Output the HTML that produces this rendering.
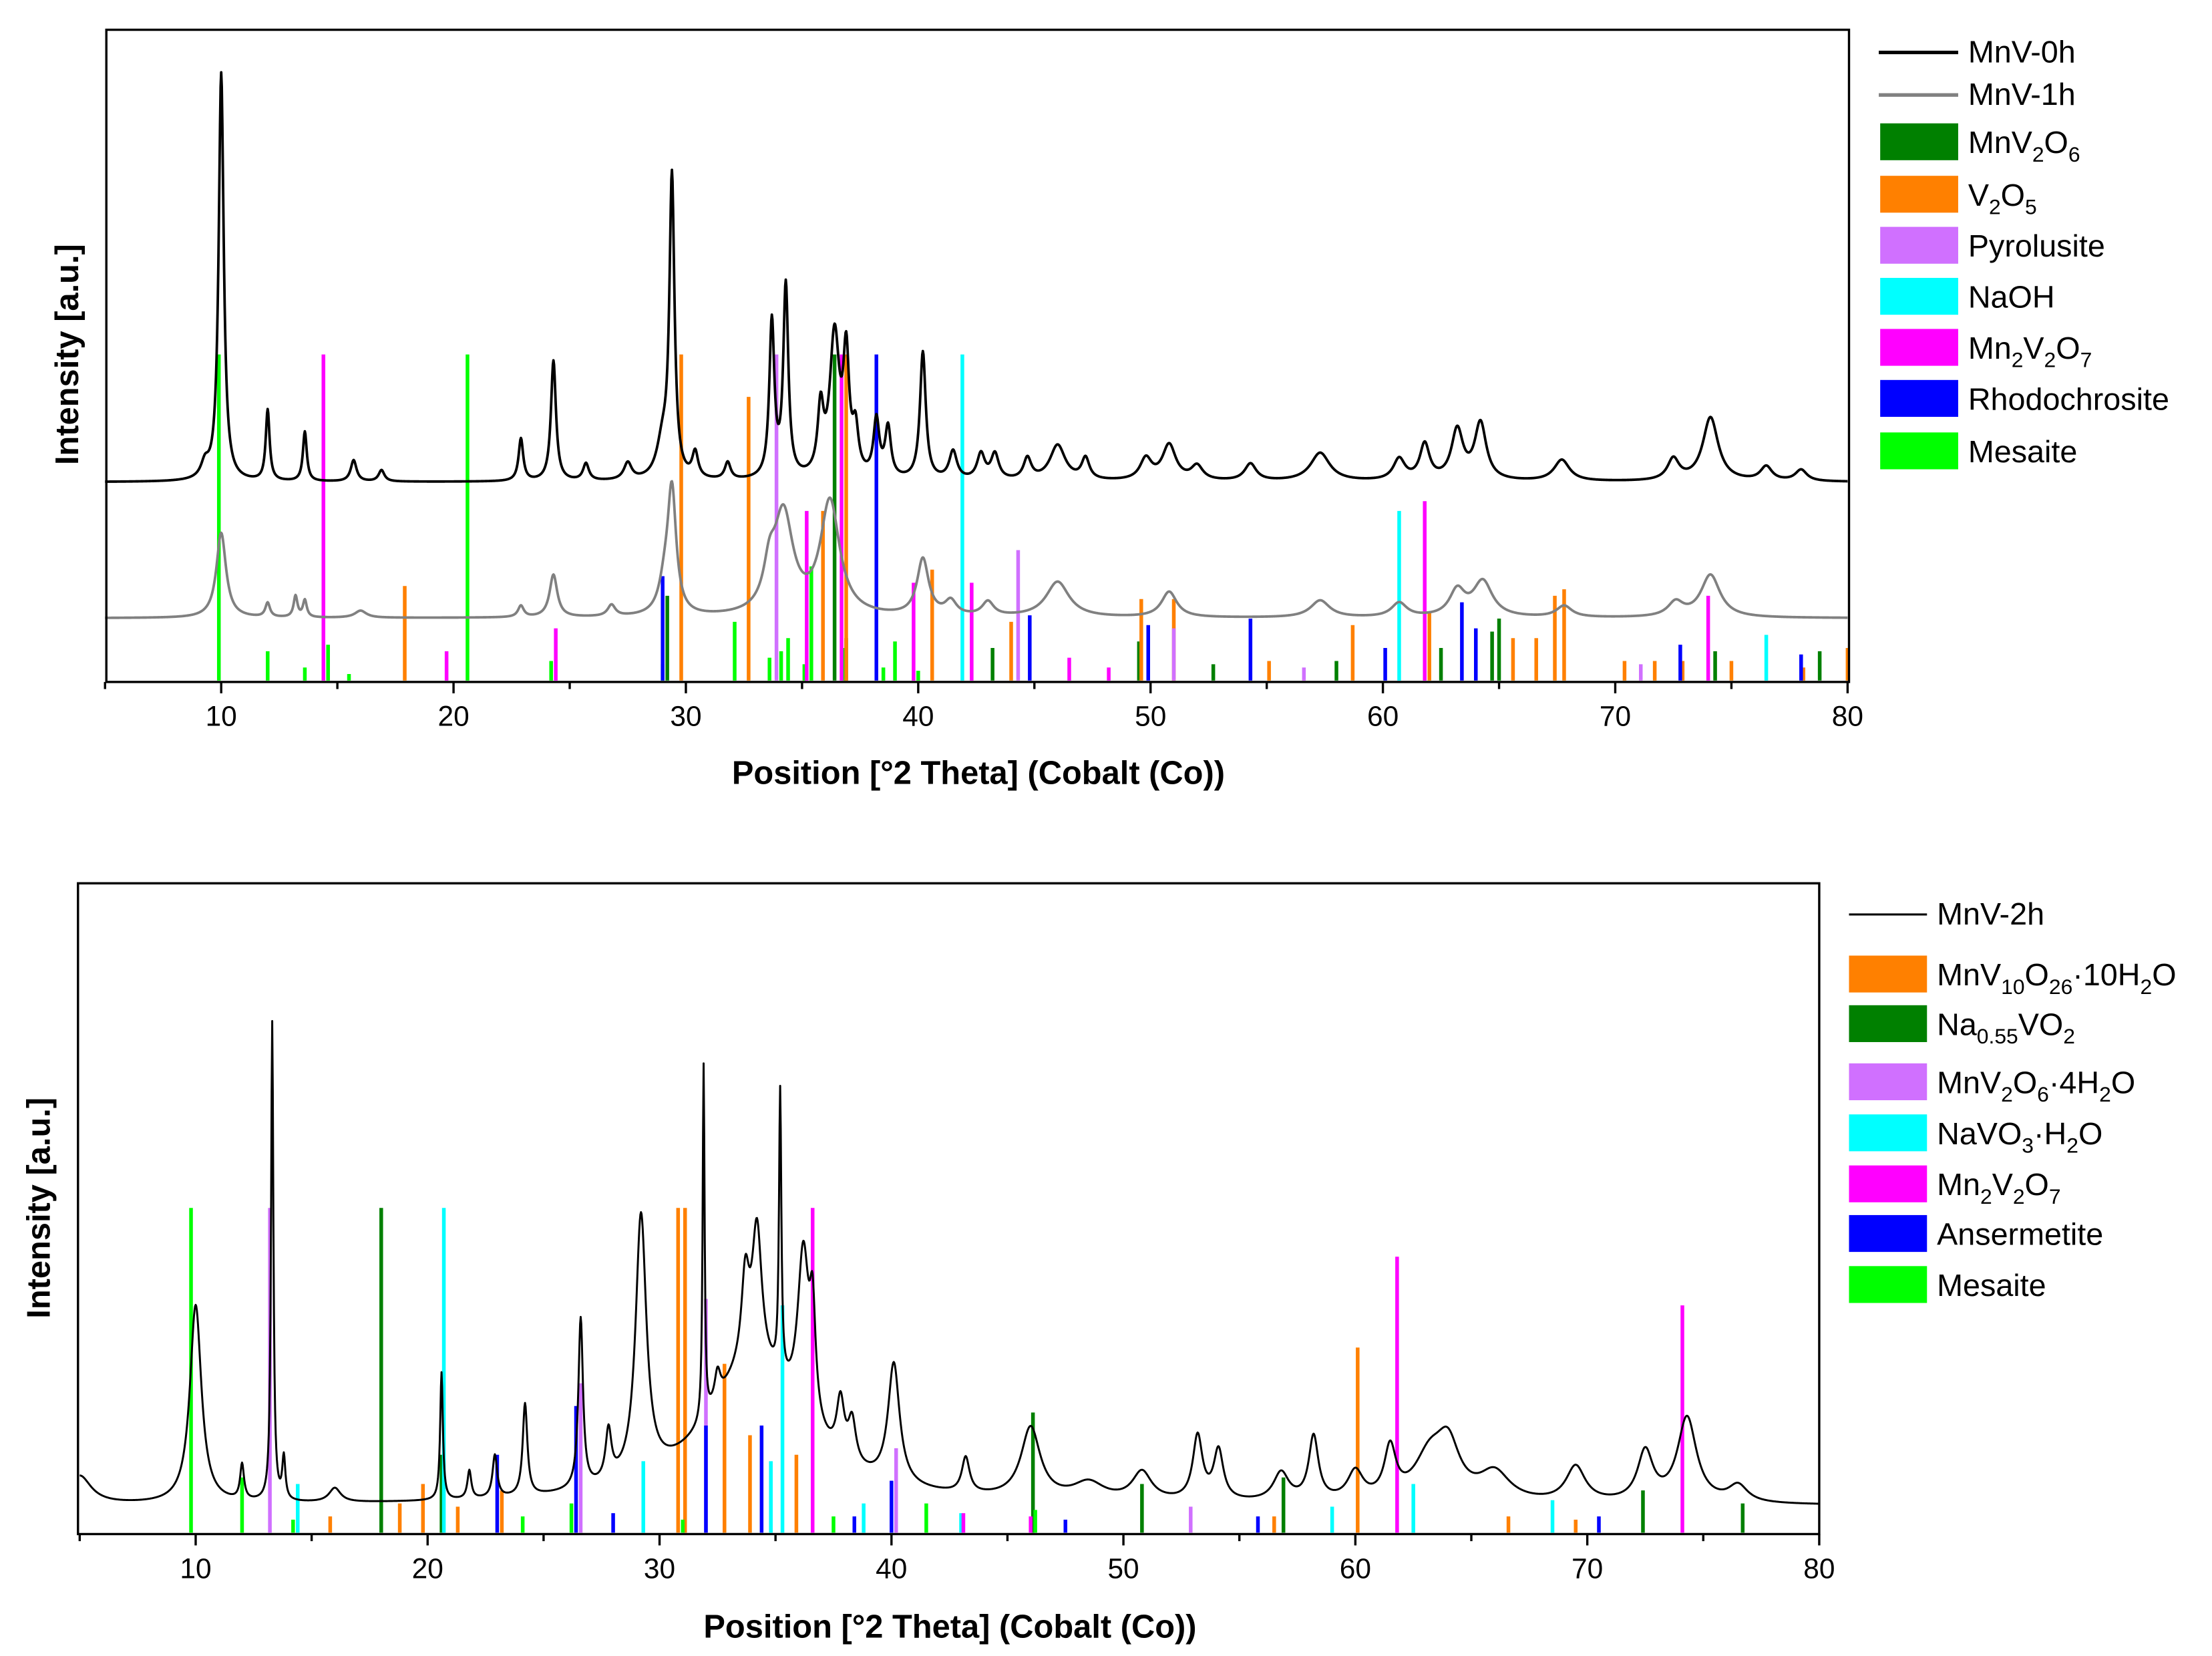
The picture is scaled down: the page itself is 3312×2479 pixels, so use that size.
<!DOCTYPE html>
<html><head><meta charset="utf-8"><style>
html,body{margin:0;padding:0;background:#fff}
svg{display:block}
text{font-family:"Liberation Sans",Arial,sans-serif;fill:#000}
</style></head><body>
<svg id="fig" width="3312" height="2479" viewBox="0 0 1560 1168" preserveAspectRatio="none" xmlns="http://www.w3.org/2000/svg">
<rect width="1560" height="1168" fill="#fff"/>
<g id="top"></g>
<g id="bot"></g>
<text x="690" y="553" font-size="23" font-weight="bold" text-anchor="middle">Position [°2 Theta] (Cobalt (Co))</text>
<text transform="translate(55,250) rotate(-90)" font-size="23" font-weight="bold" text-anchor="middle">Intensity [a.u.]</text>
<text x="670" y="1155" font-size="23" font-weight="bold" text-anchor="middle">Position [°2 Theta] (Cobalt (Co))</text>
<text transform="translate(35,852) rotate(-90)" font-size="23" font-weight="bold" text-anchor="middle">Intensity [a.u.]</text>

<g font-size="22">
<line x1="1325" y1="37" x2="1381" y2="37" stroke="#000" stroke-width="2.5"/><text x="1388" y="44">MnV-0h</text>
<line x1="1325" y1="67" x2="1381" y2="67" stroke="#808080" stroke-width="2.5"/><text x="1388" y="74">MnV-1h</text>
<rect x="1326" y="87" width="55" height="26" fill="#008000"/><text x="1388" y="108">MnV<tspan font-size="15" dy="6">2</tspan><tspan dy="-6">O</tspan><tspan font-size="15" dy="6">6</tspan></text>
<rect x="1326" y="124" width="55" height="26" fill="#ff8000"/><text x="1388" y="145">V<tspan font-size="15" dy="6">2</tspan><tspan dy="-6">O</tspan><tspan font-size="15" dy="6">5</tspan></text>
<rect x="1326" y="160" width="55" height="26" fill="#d070ff"/><text x="1388" y="181">Pyrolusite</text>
<rect x="1326" y="196" width="55" height="26" fill="#00ffff"/><text x="1388" y="217">NaOH</text>
<rect x="1326" y="232" width="55" height="26" fill="#ff00ff"/><text x="1388" y="253">Mn<tspan font-size="15" dy="6">2</tspan><tspan dy="-6">V</tspan><tspan font-size="15" dy="6">2</tspan><tspan dy="-6">O</tspan><tspan font-size="15" dy="6">7</tspan></text>
<rect x="1326" y="268" width="55" height="26" fill="#0000ff"/><text x="1388" y="289">Rhodochrosite</text>
<rect x="1326" y="305" width="55" height="26" fill="#00ff00"/><text x="1388" y="326">Mesaite</text>
</g>
<g font-size="22">
<line x1="1304" y1="645" x2="1359" y2="645" stroke="#000" stroke-width="1.5"/><text x="1366" y="652">MnV-2h</text>
<rect x="1304" y="674" width="55" height="26" fill="#ff8000"/><text x="1366" y="695">MnV<tspan font-size="15" dy="6">10</tspan><tspan dy="-6">O</tspan><tspan font-size="15" dy="6">26</tspan><tspan dy="-6">·10H</tspan><tspan font-size="15" dy="6">2</tspan><tspan dy="-6">O</tspan></text>
<rect x="1304" y="709" width="55" height="26" fill="#008000"/><text x="1366" y="730">Na<tspan font-size="15" dy="6">0.55</tspan><tspan dy="-6">VO</tspan><tspan font-size="15" dy="6">2</tspan></text>
<rect x="1304" y="750" width="55" height="26" fill="#d070ff"/><text x="1366" y="771">MnV<tspan font-size="15" dy="6">2</tspan><tspan dy="-6">O</tspan><tspan font-size="15" dy="6">6</tspan><tspan dy="-6">·4H</tspan><tspan font-size="15" dy="6">2</tspan><tspan dy="-6">O</tspan></text>
<rect x="1304" y="786" width="55" height="26" fill="#00ffff"/><text x="1366" y="807">NaVO<tspan font-size="15" dy="6">3</tspan><tspan dy="-6">·H</tspan><tspan font-size="15" dy="6">2</tspan><tspan dy="-6">O</tspan></text>
<rect x="1304" y="822" width="55" height="26" fill="#ff00ff"/><text x="1366" y="843">Mn<tspan font-size="15" dy="6">2</tspan><tspan dy="-6">V</tspan><tspan font-size="15" dy="6">2</tspan><tspan dy="-6">O</tspan><tspan font-size="15" dy="6">7</tspan></text>
<rect x="1304" y="857" width="55" height="26" fill="#0000ff"/><text x="1366" y="878">Ansermetite</text>
<rect x="1304" y="893" width="55" height="26" fill="#00ff00"/><text x="1366" y="914">Mesaite</text>
</g>
</svg>
<script>
// ---- data: peaks [position, height, halfwidth] ----
const peaks0h = [[9.3,10,0.2],[10.0,288,0.13],[12.0,50,0.1],[13.6,35,0.1],[15.7,15,0.15],[16.9,8,0.15],[22.9,30,0.12],[24.3,85,0.13],[25.7,12,0.15],[27.5,12,0.2],[29.0,25,0.3],[29.4,210,0.13],[30.4,18,0.15],[31.8,12,0.15],[33.7,110,0.13],[34.3,135,0.13],[35.8,45,0.15],[36.4,100,0.25],[36.9,80,0.15],[37.3,30,0.15],[38.2,40,0.15],[38.7,35,0.15],[40.2,90,0.15],[41.5,20,0.2],[42.7,18,0.2],[43.3,18,0.2],[44.7,15,0.2],[46.0,25,0.4],[47.2,15,0.2],[49.8,15,0.3],[50.8,25,0.35],[52.0,10,0.3],[54.3,12,0.3],[57.3,20,0.5],[60.7,15,0.3],[61.8,25,0.25],[63.2,35,0.3],[64.2,40,0.3],[67.7,15,0.4],[72.5,15,0.3],[74.1,45,0.4],[76.5,10,0.3],[78.0,8,0.3]];
const peaks1h = [[10.0,60,0.25],[12.0,10,0.12],[13.2,15,0.1],[13.6,12,0.1],[16,5,0.3],[22.9,8,0.15],[24.3,30,0.2],[26.8,8,0.2],[29.1,20,0.3],[29.4,85,0.22],[33.6,25,0.3],[34.2,70,0.5],[36.2,80,0.5],[40.2,40,0.3],[41.4,10,0.3],[43.0,10,0.3],[46.0,25,0.6],[50.8,18,0.4],[57.3,12,0.5],[60.7,10,0.4],[63.2,18,0.4],[64.3,25,0.5],[67.8,8,0.4],[72.6,10,0.4],[74.1,30,0.5]];
const peaks2h = [[5.0,20,0.6],[10.0,140,0.3],[12.0,25,0.1],[13.3,338,0.06],[13.8,30,0.08],[16.0,10,0.3],[20.6,90,0.07],[21.8,20,0.1],[22.9,30,0.12],[24.2,65,0.12],[26.6,120,0.12],[27.8,35,0.15],[29.2,185,0.28],[34.0,95,2.5],[31.9,250,0.05],[32.5,20,0.15],[33.7,60,0.2],[34.2,95,0.25],[35.2,200,0.06],[36.2,120,0.3],[36.6,70,0.15],[37.8,40,0.2],[38.3,30,0.2],[40.1,85,0.3],[43.2,25,0.2],[46.0,50,0.5],[48.5,12,0.8],[50.8,20,0.5],[53.2,45,0.25],[54.1,35,0.25],[56.8,20,0.4],[58.2,45,0.25],[60.0,20,0.4],[61.5,35,0.3],[63.2,30,0.8],[64.0,35,0.6],[66.0,20,0.8],[69.5,25,0.5],[72.5,35,0.4],[74.3,60,0.5],[76.5,12,0.5]];
// ---- sticks [position, relative height 0..1] ----
const stTop = {
 "mesaite":[[9.9,1],[12.0,.09],[13.6,.04],[14.6,.11],[15.5,.02],[20.6,1],[24.2,.06],[29.0,.05],[32.1,.18],[33.6,.07],[34.1,.09],[34.4,.13],[35.1,.05],[35.4,.35],[36.8,.1],[38.5,.04],[39.0,.12],[40.0,.03]],
 "mnv2o6":[[29.2,.26],[36.4,1],[36.9,.13],[43.2,.1],[49.5,.12],[52.7,.05],[58.0,.06],[62.5,.1],[64.7,.15],[65.0,.19],[74.3,.09],[78.8,.09]],
 "v2o5":[[17.9,.29],[29.8,1],[32.7,.87],[35.9,.52],[36.9,1],[40.6,.34],[44.0,.18],[49.6,.25],[51.0,.25],[55.1,.06],[58.7,.17],[62.0,.21],[65.6,.13],[66.6,.13],[67.4,.26],[67.8,.28],[70.4,.06],[71.7,.06],[72.9,.06],[75.0,.06],[78.1,.04],[80,.1]],
 "pyrolusite":[[33.9,1],[44.3,.4],[51.0,.16],[56.6,.04],[71.1,.05]],
 "naoh":[[41.9,1],[60.7,.52],[76.5,.14]],
 "mn2v2o7":[[14.4,1],[19.7,.09],[24.4,.16],[35.2,.52],[36.7,1],[39.8,.3],[42.3,.3],[46.5,.07],[48.2,.04],[61.8,.55],[74.0,.26]],
 "rhodochrosite":[[29.0,.32],[38.2,1],[44.8,.2],[49.9,.17],[54.3,.19],[60.1,.1],[63.4,.24],[64.0,.16],[72.8,.11],[78.0,.08]]
};
const stBot = {
 "mnv10o26":[[15.8,.05],[18.8,.09],[19.8,.15],[21.3,.08],[23.2,.13],[30.8,1],[31.1,1],[32.8,.52],[33.9,.3],[35.9,.24],[56.5,.05],[60.1,.57],[66.6,.05],[69.5,.04]],
 "na055vo2":[[18.0,1],[20.6,.24],[46.1,.37],[50.8,.15],[56.9,.17],[72.4,.13],[76.7,.09]],
 "mnv2o6-4h2o":[[13.2,1],[26.6,.46],[32.0,.72],[40.2,.26],[52.9,.08]],
 "navo3-h2o":[[14.4,.15],[20.7,1],[29.3,.22],[34.8,.22],[35.3,.7],[38.8,.09],[43.0,.06],[59.0,.08],[62.5,.15],[68.5,.1]],
 "mn2v2o7":[[36.6,1],[43.1,.06],[46.0,.05],[61.8,.85],[74.1,.7]],
 "ansermetite":[[23.0,.24],[26.4,.39],[28.0,.06],[32.0,.33],[34.4,.33],[38.4,.05],[40.0,.16],[47.5,.04],[55.8,.05],[70.5,.05]],
 "mesaite":[[9.8,1],[12.0,.17],[14.2,.04],[24.1,.05],[26.2,.09],[31.0,.04],[37.5,.05],[41.5,.09],[46.2,.07]]
};
const xTicks = [10,20,30,40,50,60,70,80];
const colors = {"mesaite":"#00ff00","mnv2o6":"#008000","v2o5":"#ff8000","pyrolusite":"#d070ff","naoh":"#00ffff","mn2v2o7":"#ff00ff","rhodochrosite":"#0000ff","mnv10o26":"#ff8000","na055vo2":"#008000","mnv2o6-4h2o":"#d070ff","navo3-h2o":"#00ffff","ansermetite":"#0000ff"};

const NS="http://www.w3.org/2000/svg";
function mk(parent,tag,attrs){const e=document.createElementNS(NS,tag);for(const k in attrs)e.setAttribute(k,attrs[k]);parent.appendChild(e);return e;}
function profile(pk,t){let s=0;for(const p of pk){const d=(t-p[0])/p[2];s+=p[1]/(1+d*d);}return s;}

function chart(g,cfg){
  const X=t=>cfg.x10+(t-10)*(cfg.x80-cfg.x10)/70;
  // sticks
  for(const name in cfg.sticks){
    for(const s of cfg.sticks[name]){
      const l=mk(g,'line',{x1:X(s[0]),x2:X(s[0]),y1:cfg.by,y2:cfg.by-s[1]*cfg.sh,stroke:colors[name],'stroke-width':2.6});
      
      
    }
  }
  // lines
  for(const ln of cfg.lines){
    let d='';
    for(let t=5;t<=80.001;t+=0.025){
      const y=ln.base-profile(ln.peaks,t);
      d+=(d?'L':'M')+X(t).toFixed(2)+','+y.toFixed(2);
    }
    const p=mk(g,'path',{d:d,fill:'none',stroke:ln.color,'stroke-width':ln.w,'stroke-linejoin':'round'});
    
    
  }
  // frame
  const f=mk(g,'rect',{x:cfg.L,y:cfg.T,width:cfg.R-cfg.L,height:cfg.B-cfg.T,fill:'none',stroke:'#000','stroke-width':1.6});
  
  
  for(let t=5;t<=80;t+=5){
    const maj=(t%10===0);
    const tk=mk(g,'line',{x1:X(t),x2:X(t),y1:cfg.B,y2:cfg.B+(maj?8:5),stroke:'#000','stroke-width':1.6});
    
    
  }
  for(const t of xTicks){
    const tx=mk(g,'text',{x:X(t),y:cfg.B+31,'font-size':20,'text-anchor':'middle'});
    tx.textContent=t;
    
    
  }
}
chart(document.getElementById('top'),{L:75,R:1304,T:21,B:481,x10:156,x80:1303,by:480,sh:230,sticks:stTop,
  lines:[{peaks:peaks0h,base:340,color:'#000',w:1.8,name:'line-mnv-0h'},{peaks:peaks1h,base:436,color:'#808080',w:1.8,name:'line-mnv-1h'}]});
chart(document.getElementById('bot'),{L:55,R:1283,T:623,B:1082,x10:138,x80:1283,by:1081,sh:229,sticks:stBot,
  lines:[{peaks:peaks2h,base:1062,color:'#000',w:1.4,name:'line-mnv-2h'}]});
</script>
</body></html>
